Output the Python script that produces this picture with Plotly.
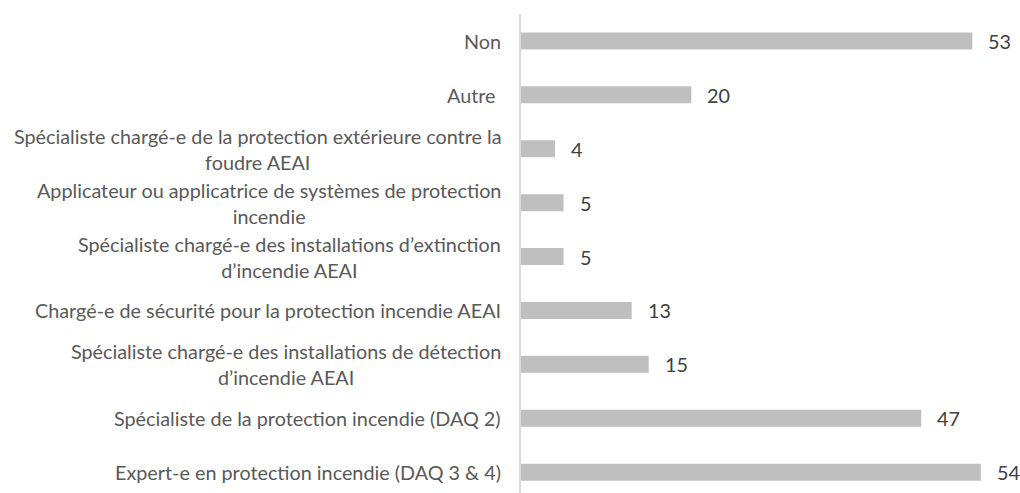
import plotly.graph_objects as go

# catégories du haut vers le bas
categories = [
    "Non",
    "Autre\u00a0",
    "Spécialiste chargé-e de la protection extérieure contre la<br>foudre AEAI",
    "Applicateur ou applicatrice de systèmes de protection<br>incendie",
    "Spécialiste chargé-e des installations d’extinction<br>d’incendie AEAI",
    "Chargé-e de sécurité pour la protection incendie AEAI",
    "Spécialiste chargé-e des installations de détection<br>d’incendie AEAI",
    "Spécialiste de la protection incendie (DAQ 2)",
    "Expert-e en protection incendie (DAQ 3 & 4)",
]
values = [53, 20, 4, 5, 5, 13, 15, 47, 54]

font_family = "Lato"
bar_color = "#bfbfbf"

fig = go.Figure()
fig.add_trace(go.Bar(
    x=values,
    y=categories,
    orientation="h",
    marker=dict(color=bar_color, line=dict(width=0)),
    hoverinfo="x+y",
))

# libellés des catégories (centrés, alignés à droite)
for cat in categories:
    fig.add_annotation(
        x=0, y=cat, xref="paper", yref="y",
        text=cat, showarrow=False,
        xanchor="right", yanchor="middle", align="center",
        xshift=-18,
        font=dict(family=font_family, size=19.8, color="#595959"),
    )

# valeurs à droite des barres
for cat, v in zip(categories, values):
    fig.add_annotation(
        x=v, y=cat, xref="x", yref="y",
        text=str(v), showarrow=False,
        xanchor="left", yanchor="middle",
        xshift=14,
        font=dict(family=font_family, size=19.8, color="#404040"),
    )

fig.update_layout(
    width=1020, height=493,
    margin=dict(l=521, r=0, t=14, b=0),
    paper_bgcolor="white",
    plot_bgcolor="white",
    bargap=0.685,
    showlegend=False,
    font=dict(family=font_family, size=19.8, color="#595959"),
)
fig.update_xaxes(
    range=[0, 58.6],
    showgrid=False, zeroline=False, showticklabels=False, showline=False,
)
fig.update_yaxes(
    range=[8.387, -0.5],
    type="category",
    showgrid=False, zeroline=False, showticklabels=False,
    showline=True, linecolor="#d9d9d9", linewidth=1.5, ticks="",
)

# pas de marge autour du graphique dans la page
fig.write_html(
    "out.html",
    config={"displayModeBar": False},
    post_script="document.body.style.margin='0';document.body.style.overflow='hidden';",
)
